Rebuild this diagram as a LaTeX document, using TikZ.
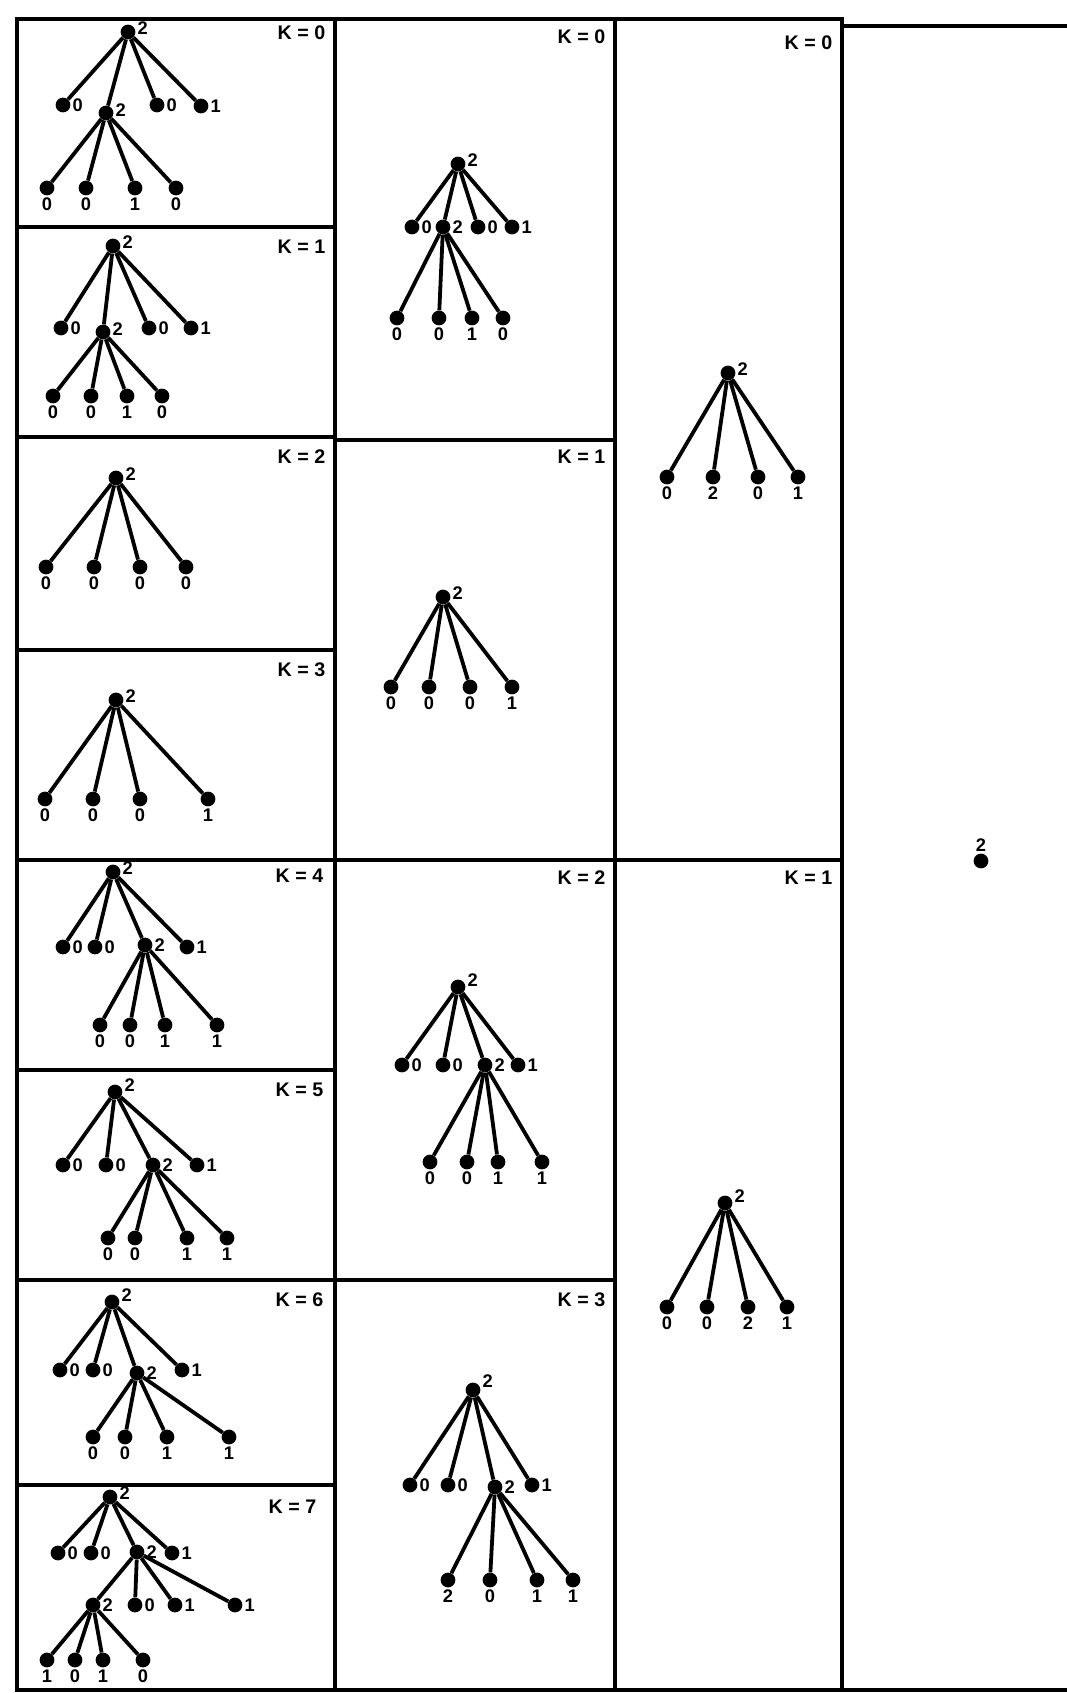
\documentclass[tikz,border=0pt]{standalone}
\usepackage{fontspec}
\setsansfont{Liberation Sans}

\tikzset{
  dot/.style={circle, fill=black, inner sep=0pt, minimum size=10.5pt},
  num/.style={font=\sffamily\bfseries\fontsize{13}{13}\selectfont, inner sep=1.2pt},
  kval/.style={font=\sffamily\bfseries\fontsize{14}{14}\selectfont, anchor=east, inner sep=1pt},
  edge/.style={line width=2.7pt},
  frame/.style={line width=2.6pt}
}

\begin{document}
\begin{tikzpicture}[x=0.025cm, y=-0.025cm]
  \useasboundingbox (0,0) rectangle (1067,1693);
  % frames
  \draw[frame] (17,19) rectangle (842,1690);
  \draw[frame] (335,19) -- (335,1690);
  \draw[frame] (615,19) -- (615,1690);
  \draw[frame] (842,26) -- (1067,26);
  \draw[frame] (842,1690) -- (1067,1690);
  \foreach \y in {227,437,650,860,1070,1280,1485} \draw[frame] (17,\y) -- (335,\y);
  \foreach \y in {440,860,1280} \draw[frame] (335,\y) -- (615,\y);
  \draw[frame] (615,860) -- (842,860);

  % left column, K = 0
  \node[kval] (L0k) at (327,33) {K = 0};
  \node[dot, label={[num,yshift=3pt]right:2}] (L0r) at (128,32) {};
  \node[dot, label={[num]right:0}] (L0a) at (63,105) {};
  \node[dot, label={[num,yshift=2pt]right:2}] (L0b) at (106,113) {};
  \node[dot, label={[num]right:0}] (L0c) at (157,105) {};
  \node[dot, label={[num]right:1}] (L0d) at (201,106) {};
  \foreach \n in {a,b,c,d} \draw[edge] (L0r) -- (L0\n);
  \foreach \x/\t [count=\i] in {47/0,86/0,135/1,176/0} {
    \node[dot, label={[num]below:\t}] (L0g\i) at (\x,188) {};
    \draw[edge] (L0b) -- (L0g\i);
  }

  % left column, K = 1
  \node[kval] (L1k) at (327,247) {K = 1};
  \node[dot, label={[num,yshift=3pt]right:2}] (L1r) at (113,246) {};
  \node[dot, label={[num]right:0}] (L1a) at (61,328) {};
  \node[dot, label={[num,yshift=2pt]right:2}] (L1b) at (103,332) {};
  \node[dot, label={[num]right:0}] (L1c) at (149,328) {};
  \node[dot, label={[num]right:1}] (L1d) at (191,328) {};
  \foreach \n in {a,b,c,d} \draw[edge] (L1r) -- (L1\n);
  \foreach \x/\t [count=\i] in {53/0,91/0,127/1,162/0} {
    \node[dot, label={[num]below:\t}] (L1g\i) at (\x,396) {};
    \draw[edge] (L1b) -- (L1g\i);
  }

  % left column, K = 2
  \node[kval] (L2k) at (327,457) {K = 2};
  \node[dot, label={[num,yshift=3pt]right:2}] (L2r) at (116,478) {};
  \foreach \x/\t [count=\i] in {46/0,94/0,140/0,186/0} {
    \node[dot, label={[num]below:\t}] (L2g\i) at (\x,567) {};
    \draw[edge] (L2r) -- (L2g\i);
  }

  % left column, K = 3
  \node[kval] (L3k) at (327,670) {K = 3};
  \node[dot, label={[num,yshift=3pt]right:2}] (L3r) at (116,700) {};
  \foreach \x/\t [count=\i] in {45/0,93/0,140/0,208/1} {
    \node[dot, label={[num]below:\t}] (L3g\i) at (\x,799) {};
    \draw[edge] (L3r) -- (L3g\i);
  }

  % left column, K = 4
  \node[kval] (L4k) at (325,876) {K = 4};
  \node[dot, label={[num,yshift=3pt]right:2}] (L4r) at (113,872) {};
  \node[dot, label={[num]right:0}] (L4a) at (63,947) {};
  \node[dot, label={[num]right:0}] (L4b) at (95,947) {};
  \node[dot, label={[num]right:2}] (L4c) at (145,945) {};
  \node[dot, label={[num]right:1}] (L4d) at (187,947) {};
  \foreach \n in {a,b,c,d} \draw[edge] (L4r) -- (L4\n);
  \foreach \x/\t [count=\i] in {100/0,130/0,165/1,217/1} {
    \node[dot, label={[num]below:\t}] (L4g\i) at (\x,1025) {};
    \draw[edge] (L4c) -- (L4g\i);
  }

  % left column, K = 5
  \node[kval] (L5k) at (325,1090) {K = 5};
  \node[dot, label={[num,yshift=5pt]right:2}] (L5r) at (115,1092) {};
  \node[dot, label={[num]right:0}] (L5a) at (63,1165) {};
  \node[dot, label={[num]right:0}] (L5b) at (106,1165) {};
  \node[dot, label={[num]right:2}] (L5c) at (153,1165) {};
  \node[dot, label={[num]right:1}] (L5d) at (197,1165) {};
  \foreach \n in {a,b,c,d} \draw[edge] (L5r) -- (L5\n);
  \foreach \x/\t [count=\i] in {108/0,135/0,187/1,227/1} {
    \node[dot, label={[num]below:\t}] (L5g\i) at (\x,1238) {};
    \draw[edge] (L5c) -- (L5g\i);
  }

  % left column, K = 6
  \node[kval] (L6k) at (325,1300) {K = 6};
  \node[dot, label={[num,yshift=5pt]right:2}] (L6r) at (112,1302) {};
  \node[dot, label={[num]right:0}] (L6a) at (60,1370) {};
  \node[dot, label={[num]right:0}] (L6b) at (93,1370) {};
  \node[dot, label={[num]right:2}] (L6c) at (137,1373) {};
  \node[dot, label={[num]right:1}] (L6d) at (182,1370) {};
  \foreach \n in {a,b,c,d} \draw[edge] (L6r) -- (L6\n);
  \foreach \x/\t [count=\i] in {93/0,125/0,167/1,229/1} {
    \node[dot, label={[num]below:\t}] (L6g\i) at (\x,1437) {};
    \draw[edge] (L6c) -- (L6g\i);
  }

  % left column, K = 7
  \node[kval] (L7k) at (318,1507) {K = 7};
  \node[dot, label={[num,yshift=3pt]right:2}] (L7r) at (110,1497) {};
  \node[dot, label={[num]right:0}] (L7a) at (58,1553) {};
  \node[dot, label={[num]right:0}] (L7b) at (91,1553) {};
  \node[dot, label={[num]right:2}] (L7c) at (137,1552) {};
  \node[dot, label={[num]right:1}] (L7d) at (172,1553) {};
  \foreach \n in {a,b,c,d} \draw[edge] (L7r) -- (L7\n);
  \node[dot, label={[num]right:2}] (L7e) at (93,1605) {};
  \node[dot, label={[num]right:0}] (L7f) at (135,1605) {};
  \node[dot, label={[num]right:1}] (L7g) at (175,1605) {};
  \node[dot, label={[num]right:1}] (L7h) at (235,1605) {};
  \foreach \n in {e,f,g,h} \draw[edge] (L7c) -- (L7\n);
  \foreach \x/\t [count=\i] in {47/1,75/0,103/1,143/0} {
    \node[dot, label={[num]below:\t}] (L7g\i) at (\x,1660) {};
    \draw[edge] (L7e) -- (L7g\i);
  }

  % middle column, K = 0
  \node[kval] (M0k) at (607,37) {K = 0};
  \node[dot, label={[num,yshift=3pt]right:2}] (M0r) at (458,164) {};
  \node[dot, label={[num]right:0}] (M0a) at (412,227) {};
  \node[dot, label={[num]right:2}] (M0b) at (443,227) {};
  \node[dot, label={[num]right:0}] (M0c) at (478,227) {};
  \node[dot, label={[num]right:1}] (M0d) at (512,227) {};
  \foreach \n in {a,b,c,d} \draw[edge] (M0r) -- (M0\n);
  \foreach \x/\t [count=\i] in {397/0,439/0,472/1,503/0} {
    \node[dot, label={[num]below:\t}] (M0g\i) at (\x,318) {};
    \draw[edge] (M0b) -- (M0g\i);
  }

  % middle column, K = 1
  \node[kval] (M1k) at (607,457) {K = 1};
  \node[dot, label={[num,yshift=3pt]right:2}] (M1r) at (443,597) {};
  \foreach \x/\t [count=\i] in {391/0,429/0,470/0,512/1} {
    \node[dot, label={[num]below:\t}] (M1g\i) at (\x,687) {};
    \draw[edge] (M1r) -- (M1g\i);
  }

  % middle column, K = 2
  \node[kval] (M2k) at (607,878) {K = 2};
  \node[dot, label={[num,yshift=5pt]right:2}] (M2r) at (458,987) {};
  \node[dot, label={[num]right:0}] (M2a) at (402,1065) {};
  \node[dot, label={[num]right:0}] (M2b) at (443,1065) {};
  \node[dot, label={[num]right:2}] (M2c) at (485,1065) {};
  \node[dot, label={[num]right:1}] (M2d) at (518,1065) {};
  \foreach \n in {a,b,c,d} \draw[edge] (M2r) -- (M2\n);
  \foreach \x/\t [count=\i] in {430/0,467/0,498/1,542/1} {
    \node[dot, label={[num]below:\t}] (M2g\i) at (\x,1162) {};
    \draw[edge] (M2c) -- (M2g\i);
  }

  % middle column, K = 3
  \node[kval] (M3k) at (607,1300) {K = 3};
  \node[dot, label={[num,yshift=6pt]right:2}] (M3r) at (473,1390) {};
  \node[dot, label={[num]right:0}] (M3a) at (410,1485) {};
  \node[dot, label={[num]right:0}] (M3b) at (448,1485) {};
  \node[dot, label={[num]right:2}] (M3c) at (495,1487) {};
  \node[dot, label={[num]right:1}] (M3d) at (532,1485) {};
  \foreach \n in {a,b,c,d} \draw[edge] (M3r) -- (M3\n);
  \foreach \x/\t [count=\i] in {448/2,490/0,537/1,573/1} {
    \node[dot, label={[num]below:\t}] (M3g\i) at (\x,1580) {};
    \draw[edge] (M3c) -- (M3g\i);
  }

  % right column
  \node[kval] (R0k) at (834,43) {K = 0};
  \node[dot, label={[num,yshift=3pt]right:2}] (R0r) at (728,373) {};
  \foreach \x/\t [count=\i] in {667/0,713/2,758/0,798/1} {
    \node[dot, label={[num]below:\t}] (R0g\i) at (\x,477) {};
    \draw[edge] (R0r) -- (R0g\i);
  }
  \node[kval] (R1k) at (834,878) {K = 1};
  \node[dot, label={[num,yshift=5pt]right:2}] (R1r) at (725,1203) {};
  \foreach \x/\t [count=\i] in {667/0,707/0,748/2,787/1} {
    \node[dot, label={[num]below:\t}] (R1g\i) at (\x,1307) {};
    \draw[edge] (R1r) -- (R1g\i);
  }

  % last column
  \node[dot, label={[num]above:2}] (S) at (981,861) {};
\end{tikzpicture}
\end{document}
